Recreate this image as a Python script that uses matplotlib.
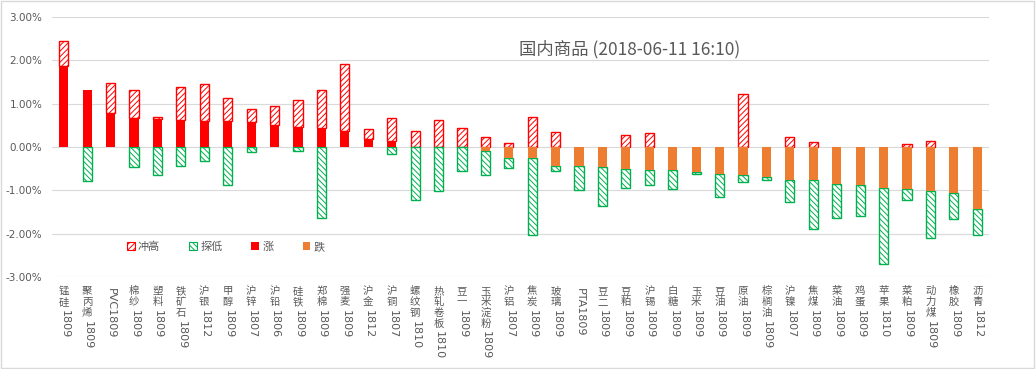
import matplotlib
matplotlib.use('Agg')
import matplotlib.pyplot as plt
import numpy as np
from matplotlib.patches import Patch, Rectangle
from matplotlib.ticker import FuncFormatter, MultipleLocator

plt.rcParams['font.family'] = ['Noto Sans CJK SC', 'DejaVu Sans']
plt.rcParams['hatch.linewidth'] = 0.7

names = ['锰硅1809', '聚丙烯1809', 'PVC1809', '棉纱1809', '塑料1809', '铁矿石1809',
         '沪银1812', '甲醇1809', '沪锌1807', '沪铅1806', '硅铁1809', '郑棉1809',
         '强麦1809', '沪金1812', '沪铜1807', '螺纹钢1810', '热轧卷板1810', '豆一1809',
         '玉米淀粉1809', '沪铝1807', '焦炭1809', '玻璃1809', 'PTA1809', '豆二1809',
         '豆粕1809', '沪锡1809', '白糖1809', '玉米1809', '豆油1809', '原油1809',
         '棕榈油1809', '沪镍1807', '焦煤1809', '菜油1809', '鸡蛋1809', '苹果1810',
         '菜粕1809', '动力煤1809', '橡胶1809', '沥青1812']

change = [1.87, 1.32, 0.78, 0.68, 0.64, 0.63, 0.60, 0.60, 0.58, 0.51, 0.46, 0.44,
          0.38, 0.18, 0.13, 0.0, 0.0, 0.0, -0.10, -0.25, -0.25, -0.43, -0.43, -0.46,
          -0.50, -0.54, -0.54, -0.58, -0.62, -0.65, -0.69, -0.75, -0.77, -0.86, -0.88,
          -0.95, -0.98, -1.02, -1.05, -1.43]
high = [2.45, 1.32, 1.48, 1.31, 0.70, 1.39, 1.45, 1.13, 0.88, 0.94, 1.09, 1.31,
        1.92, 0.42, 0.68, 0.36, 0.62, 0.45, 0.23, 0.09, 0.70, 0.35, 0.0, 0.0,
        0.27, 0.33, 0.0, 0.0, 0.0, 1.23, 0.0, 0.22, 0.11, 0.0, 0.0,
        0.0, 0.08, 0.15, 0.0, 0.0]
low = [0.0, -0.78, 0.0, -0.45, -0.65, -0.44, -0.32, -0.87, -0.12, 0.0, -0.10, -1.64,
       0.0, 0.0, -0.17, -1.23, -1.02, -0.55, -0.65, -0.48, -2.02, -0.56, -0.99, -1.36,
       -0.94, -0.87, -0.98, -0.62, -1.15, -0.80, -0.77, -1.27, -1.89, -1.64, -1.59,
       -2.69, -1.23, -2.09, -1.65, -2.04]

legend_labels = ['冲高', '探低', '涨', '跌']
title = '国内商品 (2018-06-11 16:10)'

RED = '#FF0000'
ORANGE = '#ED7D31'
GREEN = '#00B050'
GRAY = '#595959'
GRID = '#D9D9D9'

W, H = 1036, 369
fig = plt.figure(figsize=(W / 100, H / 100), dpi=100)
ax = fig.add_axes([52 / W, 1 - 277 / H, 937 / W, 260 / H])

x = np.arange(len(names))
chg = np.array(change)
hi = np.array(high)
lo = np.array(low)
up = np.where(chg > 0, chg, 0.0)
dn = np.where(chg < 0, chg, 0.0)
w = 0.39

m = (hi - up) > 1e-9
ax.bar(x[m], (hi - up)[m], bottom=up[m], width=w, facecolor='white',
       edgecolor=RED, hatch='//////', linewidth=1.0, zorder=3)
m = (dn - lo) > 1e-9
ax.bar(x[m], (lo - dn)[m], bottom=dn[m], width=w, facecolor='white',
       edgecolor=GREEN, hatch='\\\\\\\\\\\\', linewidth=1.0, zorder=3)
m = up > 0
ax.bar(x[m], up[m], width=w, color=RED, linewidth=0, zorder=3)
m = dn < 0
ax.bar(x[m], dn[m], width=w, color=ORANGE, linewidth=0, zorder=3)

ax.set_xlim(-0.5, len(names) - 0.5)
ax.set_ylim(-3, 3)
ax.yaxis.set_major_locator(MultipleLocator(1))
ax.yaxis.set_major_formatter(FuncFormatter(lambda v, p: f'{v:.2f}%'))
ax.grid(axis='y', color=GRID, linewidth=0.8, zorder=0)
for s in ax.spines.values():
    s.set_visible(False)
ax.tick_params(axis='y', length=0, pad=7, labelsize=7.5, labelcolor=GRAY)
ax.set_xticks([])
for lab in ax.get_yticklabels():
    lab.set_family(['DejaVu Sans'])

PITCH = 7.8
Y0 = -6.5
for i, name in enumerate(names):
    j = 0
    while j < len(name) and ord(name[j]) > 127:
        j += 1
    cjk, tail = name[:j], name[j:]
    for k, ch in enumerate(cjk):
        ax.annotate(ch, xy=(i, 0), xycoords=('data', 'axes fraction'),
                    xytext=(0, Y0 - k * PITCH), textcoords='offset points',
                    ha='center', va='top', fontsize=7.5, color=GRAY,
                    annotation_clip=False)
    ax.annotate(tail, xy=(i, 0), xycoords=('data', 'axes fraction'),
                xytext=(0.5, Y0 - len(cjk) * PITCH - 1.5), textcoords='offset points',
                ha='center', va='top', rotation=-90, fontsize=8, color=GRAY,
                family=['DejaVu Sans'], annotation_clip=False)

ax.text(0.616, 0.877, title, transform=ax.transAxes, ha='center', va='center',
        fontsize=12.5, color=GRAY)

handles = [Patch(facecolor='white', edgecolor=RED, hatch='//////', linewidth=0.8),
           Patch(facecolor='white', edgecolor=GREEN, hatch='\\\\\\\\\\\\', linewidth=0.8),
           Patch(facecolor=RED, edgecolor='none'),
           Patch(facecolor=ORANGE, edgecolor='none')]
fig.legend(handles, legend_labels, loc='center', bbox_to_anchor=(0.218, 0.331),
           ncol=4, frameon=False, fontsize=8, handlelength=0.7, handleheight=0.7,
           handletextpad=0.3, columnspacing=2.6, labelcolor=GRAY)

fig.patches.append(Rectangle((0.001, 0.002), 0.997, 0.995, transform=fig.transFigure,
                             fill=False, edgecolor=GRID, linewidth=1))

fig.savefig('out.png', dpi=100)
